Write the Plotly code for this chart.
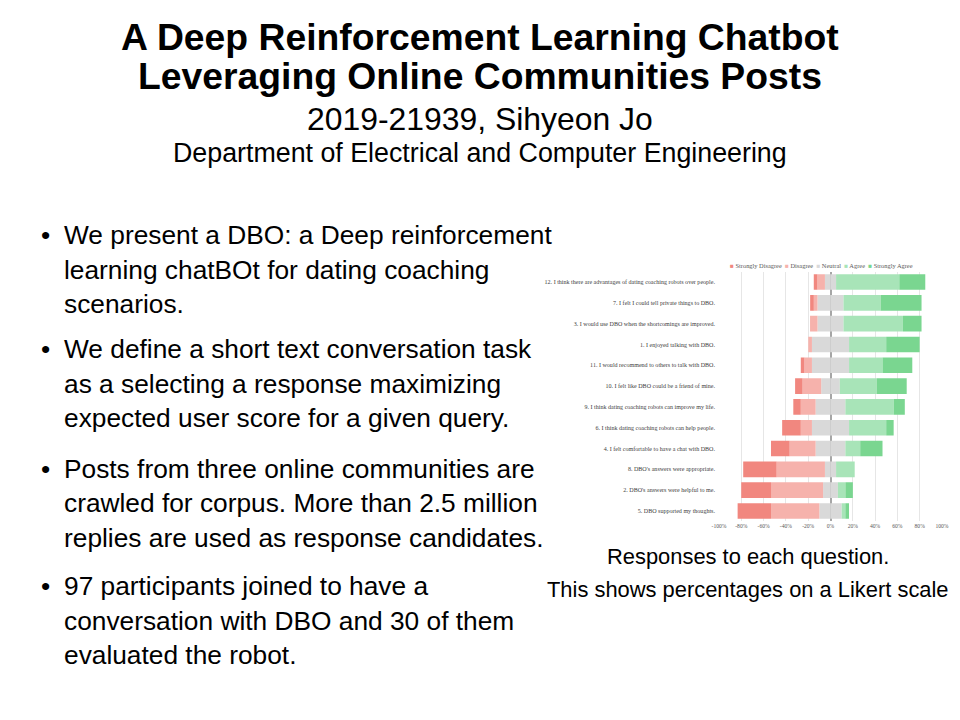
import plotly.graph_objects as go

# ---------------- data ----------------
questions = [
    "12. I think there are advantages of dating coaching robots over people.",
    "7. I felt I could tell private things to DBO.",
    "3. I would use DBO when the shortcomings are improved.",
    "1. I enjoyed talking with DBO.",
    "11. I would recommend to others to talk with DBO.",
    "10. I felt like DBO could be a friend of mine.",
    "9. I think dating coaching robots can improve my life.",
    "6. I think dating coaching robots can help people.",
    "4. I felt comfortable to have a chat with DBO.",
    "8. DBO's answers were appropriate.",
    "2. DBO's answers were helpful to me.",
    "5. DBO supported my thoughts.",
]
# percentages of 30 respondents
strongly_disagree = [3.3, 3.3, 0.0, 0.0, 3.3, 6.7, 6.7, 16.7, 16.7, 30.0, 26.7, 30.0]
disagree          = [6.7, 3.3, 6.7, 3.3, 6.7, 16.7, 13.3, 10.0, 23.3, 43.3, 46.7, 43.3]
neutral           = [10.0, 23.3, 23.3, 33.3, 33.3, 16.7, 26.7, 33.3, 26.7, 10.0, 13.3, 20.0]
agree             = [56.7, 33.3, 53.3, 33.3, 30.0, 33.3, 43.3, 33.3, 13.3, 16.7, 6.7, 3.3]
strongly_agree    = [23.3, 36.7, 16.7, 30.0, 26.7, 26.7, 10.0, 6.7, 20.0, 0.0, 6.7, 3.3]

legend_names = ["Strongly Disagree", "Disagree", "Neutral", "Agree", "Strongly Agree"]
colors = ["#F1877F", "#F6B2AC", "#D9D9D9", "#A8E4B8", "#7AD690"]
x_ticks = [-100, -80, -60, -40, -20, 0, 20, 40, 60, 80, 100]

title_lines = ["A Deep Reinforcement Learning Chatbot",
               "Leveraging Online Communities Posts"]
subtitle = "2019-21939, Sihyeon Jo"
department = "Department of Electrical and Computer Engineering"
bullets = [
    ["We present a DBO: a Deep reinforcement",
     "learning chatBOt for dating coaching",
     "scenarios."],
    ["We define a short text conversation task",
     "as a selecting a response maximizing",
     "expected user score for a given query."],
    ["Posts from three online communities are",
     "crawled for corpus. More than 2.5 million",
     "replies are used as response candidates."],
    ["97 participants joined to have a",
     "conversation with DBO and 30 of them",
     "evaluated the robot."],
]
caption = ["Responses to each question.",
           "This shows percentages on a Likert scale"]

# ---------------- figure ----------------
fig = go.Figure()
half_neutral = [v / 2 for v in neutral]
neg = lambda arr: [-v for v in arr]

common = dict(orientation="h", y=questions, marker_line_width=0, showlegend=False,
              hovertemplate="%{y}: %{x:.1f}%<extra></extra>")
# negative side: neutral half, disagree, strongly disagree (stacked outward)
fig.add_trace(go.Bar(x=neg(half_neutral), name=legend_names[2], marker_color=colors[2], **common))
fig.add_trace(go.Bar(x=neg(disagree), name=legend_names[1], marker_color=colors[1], **common))
fig.add_trace(go.Bar(x=neg(strongly_disagree), name=legend_names[0], marker_color=colors[0], **common))
# positive side: neutral half, agree, strongly agree
fig.add_trace(go.Bar(x=half_neutral, name=legend_names[2], marker_color=colors[2], **common))
fig.add_trace(go.Bar(x=agree, name=legend_names[3], marker_color=colors[3], **common))
fig.add_trace(go.Bar(x=strongly_agree, name=legend_names[4], marker_color=colors[4], **common))

fig.update_layout(
    width=960, height=720,
    margin=dict(l=0, r=0, t=0, b=0, pad=0, autoexpand=False),
    paper_bgcolor="white", plot_bgcolor="white",
    barmode="relative", bargap=0.25,
    showlegend=False,
    font=dict(family="Liberation Sans, Arial, sans-serif", color="black"),
    xaxis=dict(
        domain=[719 / 960, 942 / 960], range=[-100, 100], automargin=False,
        tickvals=x_ticks, ticktext=[f"{v}%" for v in x_ticks],
        tickfont=dict(family="Liberation Serif, Times New Roman, serif", size=5.6, color="#595959"),
        showgrid=True, gridcolor="#E6E6E6", gridwidth=1,
        zeroline=True, zerolinecolor="#A6A6A6", zerolinewidth=1.5,
        showline=False, ticks="", fixedrange=True,
    ),
    yaxis=dict(
        domain=[1 - 521.4 / 720, 1 - 271.6 / 720], automargin=False,
        categoryorder="array", categoryarray=questions,
        autorange="reversed",
        tickfont=dict(family="Liberation Serif, Times New Roman, serif", size=6.05, color="#404040"),
        showgrid=False, zeroline=False, showline=False, ticks="", ticklabelstandoff=3,
        fixedrange=True,
    ),
)

ann = []
def paper_y(px):
    return 1 - px / 720

# legend drawn as a text row (coloured squares + names)
legend_html = "  ".join(
    f"<span style='color:{c}'>■</span> {n}" for c, n in zip(colors, legend_names)
)
ann.append(dict(text=legend_html, x=821 / 960, y=paper_y(265), xref="paper", yref="paper",
                xanchor="center", yanchor="middle", showarrow=False,
                font=dict(family="Liberation Serif, Times New Roman, serif", size=6.4, color="#595959")))

# titles
for txt, yy in zip(title_lines, [37, 76]):
    ann.append(dict(text=f"<b>{txt}</b>", x=0.5, y=paper_y(yy), xref="paper", yref="paper",
                    xanchor="center", yanchor="middle", showarrow=False,
                    font=dict(size=37.3, color="black")))
ann.append(dict(text=subtitle, x=0.5, y=paper_y(119), xref="paper", yref="paper",
                xanchor="center", yanchor="middle", showarrow=False, font=dict(size=31.9)))
ann.append(dict(text=department, x=0.5, y=paper_y(153), xref="paper", yref="paper",
                xanchor="center", yanchor="middle", showarrow=False, font=dict(size=26.8)))

# bullets
bullet_tops = [235, 349, 469, 586]
for lines, y0 in zip(bullets, bullet_tops):
    ann.append(dict(text="•", x=45 / 960, y=paper_y(y0), xref="paper", yref="paper",
                    xanchor="center", yanchor="middle", showarrow=False, font=dict(size=26.3)))
    for i, line in enumerate(lines):
        ann.append(dict(text=line, x=62 / 960, y=paper_y(y0 + i * 34.5), xref="paper", yref="paper",
                        xanchor="left", yanchor="middle", showarrow=False, font=dict(size=26.3)))

# caption
for txt, yy in zip(caption, [556, 589]):
    ann.append(dict(text=txt, x=747.5 / 960, y=paper_y(yy), xref="paper", yref="paper",
                    xanchor="center", yanchor="middle", showarrow=False, font=dict(size=21.9)))

fig.update_layout(annotations=ann)
fig.write_html("out.html", config={"displayModeBar": False},
               post_script="document.body.style.margin='0px';")
